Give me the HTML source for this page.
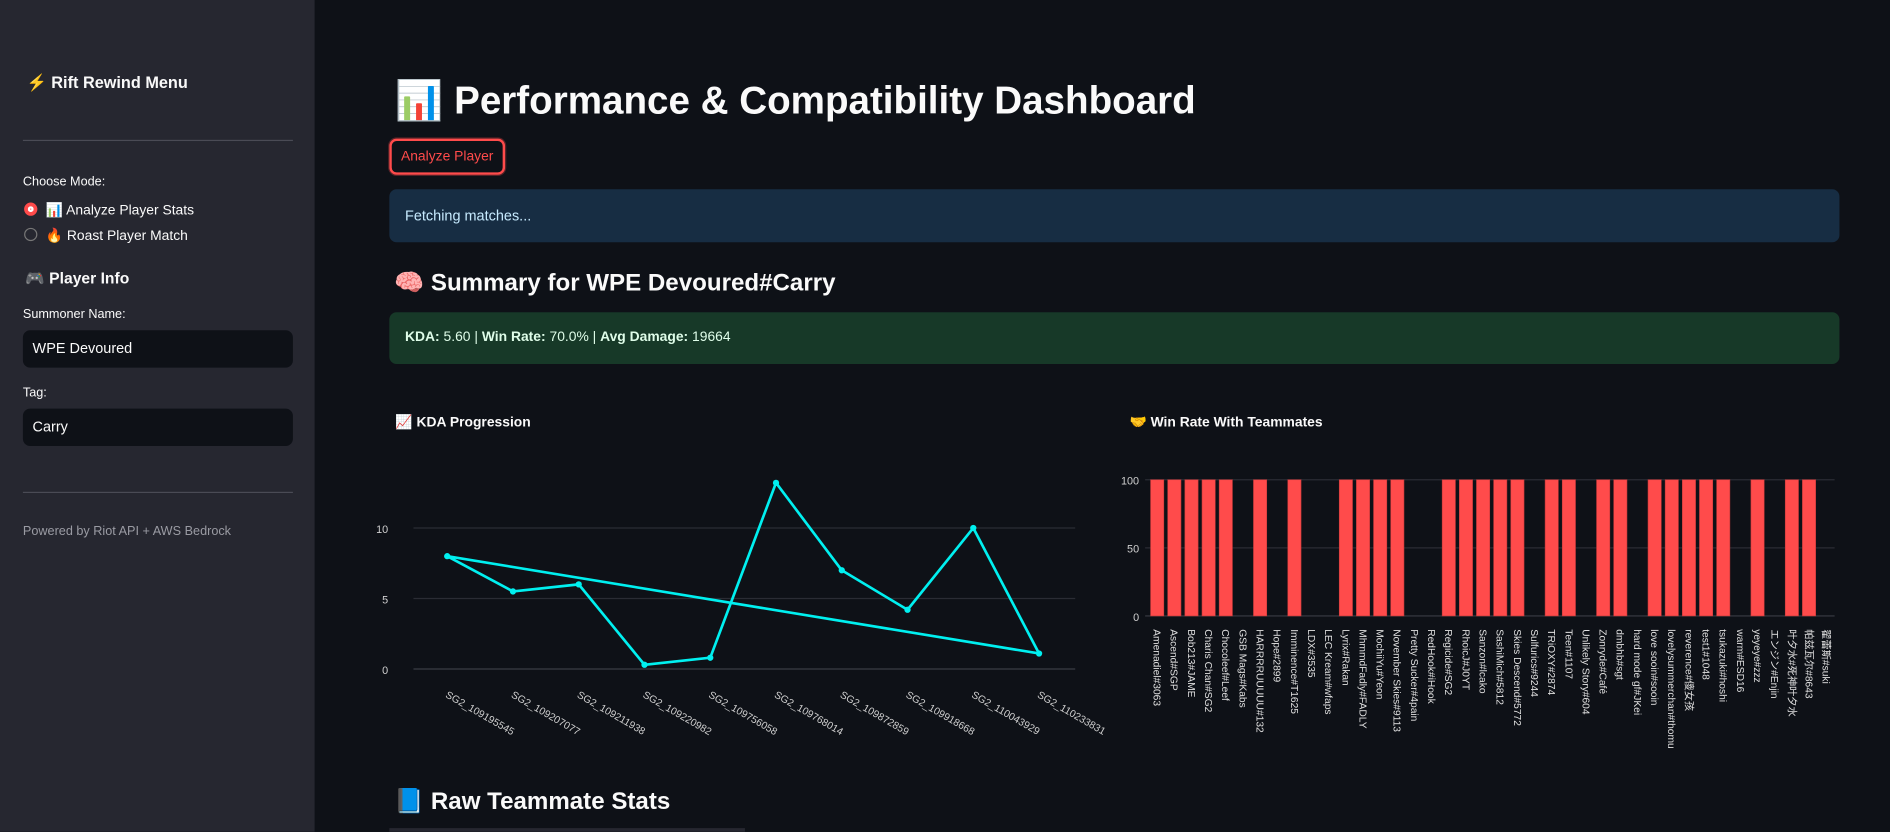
<!DOCTYPE html>
<html><head><meta charset="utf-8">
<style>
html,body{margin:0;padding:0;width:1890px;height:832px;overflow:hidden;background:#0e1117;}
#root{position:absolute;left:0;top:0;width:1568px;height:690px;transform:scale(1.2054);transform-origin:0 0;font-family:"Liberation Sans","Noto Sans CJK JP",sans-serif;color:#fafafa;}
.abs{position:absolute;white-space:nowrap;}
#sidebar{position:absolute;left:0;top:0;width:261px;height:690px;background:#262730;}
.hr{position:absolute;left:19px;width:224px;height:1px;background:#4a4b55;}
.lbl{font-size:10.5px;color:#fafafa;}
.inp{position:absolute;left:19px;width:224px;height:31px;background:#0e1117;border-radius:6px;font-size:12px;line-height:31px;text-indent:8px;}
.radio{position:absolute;left:20px;width:11px;height:11px;border-radius:50%;box-sizing:border-box;}
</style></head>
<body>
<div id="root">
<div id="sidebar">
  <div class="abs" style="left:22px;top:61px;font-size:13.5px;font-weight:bold;"><span style="color:#f7931e">⚡</span> Rift Rewind Menu</div>
  <div class="hr" style="top:116px"></div>
  <div class="abs lbl" style="left:19px;top:145px">Choose Mode:</div>
  <div class="radio" style="top:168px;background:#ff4b4b;border:3px solid #ff4b4b;box-shadow:inset 0 0 0 2px #fff;"></div>
  <div class="abs" style="left:38px;top:167px;font-size:11.5px">📊 Analyze Player Stats</div>
  <div class="radio" style="top:189px;border:1px solid #777"></div>
  <div class="abs" style="left:38px;top:188px;font-size:11.5px">🔥 Roast Player Match</div>
  <div class="abs" style="left:21px;top:223px;font-size:13px;font-weight:bold">🎮 Player Info</div>
  <div class="abs lbl" style="left:19px;top:255px">Summoner Name:</div>
  <div class="inp" style="top:274px">WPE Devoured</div>
  <div class="abs lbl" style="left:19px;top:320px">Tag:</div>
  <div class="inp" style="top:339px">Carry</div>
  <div class="hr" style="top:408px"></div>
  <div class="abs" style="left:19px;top:435px;font-size:10.5px;color:#9a9ba3">Powered by Riot API + AWS Bedrock</div>
</div>

<div class="abs" style="left:328px;top:64px;font-size:32px;font-weight:bold;">📊 Performance &amp; Compatibility Dashboard</div>
<div class="abs" style="left:323px;top:115px;width:96px;height:30px;box-sizing:border-box;border:2px solid #ff4b4b;border-radius:6px;font-size:11.5px;color:#ff4b4b;line-height:26px;text-align:center;box-shadow:0 0 0 1px rgba(255,75,75,.3)">Analyze Player</div>
<div class="abs" style="left:323px;top:157px;width:1203px;height:44px;background:#172d43;border-radius:6px;font-size:12px;color:#c7ebff;line-height:44px;text-indent:13px">Fetching matches...</div>
<div class="abs" style="left:327px;top:222px;font-size:20px;font-weight:bold">🧠 Summary for WPE Devoured#Carry</div>
<div class="abs" style="left:323px;top:259px;width:1203px;height:43px;background:#173928;border-radius:6px;font-size:11.5px;color:#dffde9;line-height:43px;text-indent:13px"><b>KDA:</b> 5.60 | <b>Win Rate:</b> 70.0% | <b>Avg Damage:</b> 19664</div>
<div class="abs" style="left:328px;top:343px;font-size:11.5px;font-weight:bold">📈 KDA Progression</div>
<div class="abs" style="left:937px;top:343px;font-size:11.5px;font-weight:bold">🤝 Win Rate With Teammates</div>
<svg id="kda" class="abs" style="left:0;top:0" width="1568" height="690"></svg>
<svg id="wr" class="abs" style="left:0;top:0" width="1568" height="690"></svg>
<div class="abs" style="left:327px;top:652px;font-size:20px;font-weight:bold">📘 Raw Teammate Stats</div>
<div class="abs" style="left:323px;top:687px;width:295px;height:3px;background:#262730"></div>
</div>
<script>
const kdaMatches=["SG2_109195545","SG2_109207077","SG2_109211938","SG2_109220982","SG2_109756058","SG2_109768014","SG2_109872859","SG2_109918668","SG2_110043929","SG2_110233831"];
const kdaValues=[8,5.5,6,0.3,0.8,13.2,7,4.2,10,1.1];
const kdaTicks=[0,5,10];
const mates=["Amenadiel#3063","Ascend#SGP","Bob213#JAME","Charis Chan#SG2","Chocoleef#Leef","GSB Mags#Kabs","HARRRRUUUUU#132","Hope#2899","Imminence#T1625","LDX#3535","LEC Kream#wfaps","Lyrix#Rakan","MhmmdFadly#FADLY","MochiiYu#Yeon","November Skies#9113","Pretty Sucker#4pain","RedHook#iHook","Regicide#SG2","RhoicJ#J0YT","Sanzon#lcako","SashiMich#5812","Skies Descend#5772","Sulfurics#9244","TRiOXY#2874","Teen#1107","Unlikely Story#604","Zonryde#Café","dmbhb#sgt","hard mode gf#JKei","love sooin#sooin","lovelysummerchan#thomu","reverence#傻女孩","test1#1048","tsukazuki#hoshi","warm#ESD16","yeyeye#zzz","エンジン#Enjin","叶夕水#死神叶夕水","帕兹瓦尔#8643","翟蕾斯#suki"];
const winRates=[100,100,100,100,100,0,100,0,100,0,0,100,100,100,100,0,0,100,100,100,100,100,0,100,100,0,100,100,0,100,100,100,100,100,0,100,0,100,100,0];
const wrTicks=[0,50,100];
const NS="http://www.w3.org/2000/svg";
function mk(svg,tag,a,txt){const e=document.createElementNS(NS,tag);for(const k in a)e.setAttribute(k,a[k]);if(txt!==undefined)e.textContent=txt;svg.appendChild(e);return e;}
const k=document.getElementById('kda');
const kx=i=>371+i*(862-371)/(kdaMatches.length-1);
const ky=v=>555-v*(555-438)/10;
kdaTicks.forEach(t=>{
  const g=mk(k,'line',{x1:343,x2:892,y1:ky(t),y2:ky(t),stroke:t===0?'#3a3c44':'#2a2c34','stroke-width':1});
  
  
  const l=mk(k,'text',{x:322,y:ky(t)+4,'text-anchor':'end','font-size':9,fill:'#d0d0d0','font-family':'Liberation Sans'},t);
  
  
});
let pts=kdaValues.map((v,i)=>kx(i)+','+ky(v));
pts.push(pts[0]);
const line=mk(k,'polyline',{points:pts.join(' '),fill:'none',stroke:'#00f0f0','stroke-width':2.2,'stroke-linejoin':'round'});


kdaValues.forEach((v,i)=>{
  const c=mk(k,'circle',{cx:kx(i),cy:ky(v),r:2.6,fill:'#00f0f0'});
  
  
  const t=mk(k,'text',{x:kx(i)-2,y:578,'font-size':8.5,fill:'#d0d0d0','font-family':'Liberation Sans',transform:`rotate(30 ${kx(i)-2} 578)`},kdaMatches[i]);
  
  
});
const w=document.getElementById('wr');
const step=(1515-960)/(mates.length-1);
const wx=i=>960+i*step;
const wy=v=>511-v*(511-398)/100;
wrTicks.forEach(t=>{
  const g=mk(w,'line',{x1:950,x2:1522,y1:wy(t),y2:wy(t),stroke:t===0?'#3a3c44':'#2a2c34','stroke-width':1});
  
  
  const l=mk(w,'text',{x:945,y:wy(t)+4,'text-anchor':'end','font-size':9,fill:'#d0d0d0','font-family':'Liberation Sans'},t);
  
  
});
mates.forEach((m,i)=>{
  const v=winRates[i];
  if(v>0){
    const r=mk(w,'rect',{x:wx(i)-5.5,y:wy(v),width:11,height:wy(0)-wy(v),fill:'#ff4b4b',stroke:'#c73a3a','stroke-width':0.5});
    
    
  }
  const t=mk(w,'text',{x:wx(i)-3,y:522,'font-size':8.5,fill:'#e0e0e0','font-family':'Liberation Sans, Noto Sans CJK JP, sans-serif',transform:`rotate(90 ${wx(i)-3} 522)`},m);
  
  
});
</script>
</body></html>
